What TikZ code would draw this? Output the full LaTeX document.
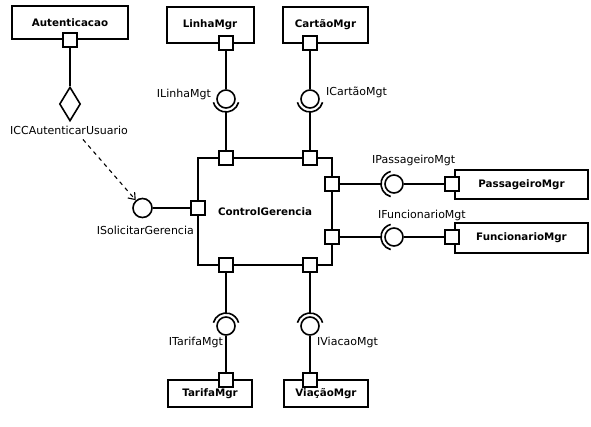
\documentclass[tikz,border=0pt]{standalone}
\usepackage{fontspec}
\setmainfont{DejaVu Sans}
\usetikzlibrary{shapes.geometric,arrows.meta}

\begin{document}
\begin{tikzpicture}[x=1pt,y=-1pt,
  comp/.style={draw,line width=2pt,inner sep=0pt,font=\fontsize{10.3}{12}\selectfont\bfseries},
  port/.style={draw,fill=white,line width=1.9pt,minimum size=14pt,inner sep=0pt},
  ball/.style={draw,circle,line width=1.6pt,minimum size=18pt,inner sep=0pt},
  sock/.style={line width=1.6pt},
  wire/.style={line width=2pt},
  lbl/.style={inner sep=0pt,font=\fontsize{11}{13}\selectfont},
  dep/.style={line width=1.1pt,dash pattern=on 4pt off 4pt,-{Straight Barb[length=6pt,width=9pt]}}
]
\useasboundingbox (0,0) rectangle (591,426);
%The components first, with the control one in the middle,
% then the ports sitting on their borders
\node[comp,minimum width=116pt,minimum height=33pt] (aut) at (70,22.5) {Autenticacao};
\node[comp,minimum width=87pt,minimum height=36pt] (lin) at (210,25) {LinhaMgr};
\node[comp,minimum width=85pt,minimum height=36pt] (car) at (325.5,25) {CartãoMgr};
\node[comp,minimum width=133pt,minimum height=29pt] (pas) at (521.5,184.5) {PassageiroMgr};
\node[comp,minimum width=133pt,minimum height=30pt] (fun) at (521.5,238) {FuncionarioMgr};
\node[comp,minimum width=84pt,minimum height=27pt] (tar) at (210,393.5) {TarifaMgr};
\node[comp,minimum width=84pt,minimum height=27pt] (via) at (326,393.5) {ViaçãoMgr};
\node[comp,minimum width=134pt,minimum height=107pt] (cg) at (265,211.5) {ControlGerencia};

\node[port] (autP) at (aut.south) {};
\node[port] (linP) at (226,43) {};
\node[port] (carP) at (310,43) {};
\node[port] (pasP) at (452,184) {};
\node[port] (funP) at (452,237) {};
\node[port] (tarP) at (226,380) {};
\node[port] (viaP) at (310,380) {};
\node[port] (cgT1) at (226,158) {};
\node[port] (cgT2) at (310,158) {};
\node[port] (cgR1) at (332,184) {};
\node[port] (cgR2) at (332,237) {};
\node[port] (cgB1) at (226,265) {};
\node[port] (cgB2) at (310,265) {};
\node[port] (cgL) at (198,208) {};

% provided interfaces (balls)
\node[ball] (bLin) at (226,99) {};
\node[ball] (bCar) at (310,99) {};
\node[ball] (bPas) at (394,184) {};
\node[ball] (bFun) at (394,237) {};
\node[ball] (bTar) at (226,326) {};
\node[ball] (bVia) at (310,326) {};
\node[ball,minimum size=19pt] (bSol) at (142.5,208) {};
\node[draw,diamond,line width=1.6pt,minimum width=21pt,minimum height=34pt,
      inner sep=0pt,shape aspect=0.62] (dia) at (70,104) {};

% required interfaces (sockets), open towards the ball
\foreach \b/\a in {bLin/90,bCar/90,bPas/180,bFun/180,bTar/270,bVia/270}{
  \draw[sock] (\b.center) ++(\a-75:13) arc[start angle=\a-75,end angle=\a+75,radius=13];
  \path (\b.center) ++(\a:13) coordinate (s\b);
}

\draw[wire] (autP) -- (dia);
\draw[wire] (linP) -- (bLin);
\draw[wire] (sbLin) -- (cgT1);
\draw[wire] (carP) -- (bCar);
\draw[wire] (sbCar) -- (cgT2);
\draw[wire] (cgR1) -- (sbPas);
\draw[wire] (bPas) -- (pasP);
\draw[wire] (cgR2) -- (sbFun);
\draw[wire] (bFun) -- (funP);
\draw[wire] (cgB1) -- (sbTar);
\draw[wire] (bTar) -- (tarP);
\draw[wire] (cgB2) -- (sbVia);
\draw[wire] (bVia) -- (viaP);
\draw[wire] (bSol) -- (cgL);

\node[lbl] (lICC) at (69,130) {ICCAutenticarUsuario};
\node[lbl,anchor=east] (lLin) at (211,94) {ILinhaMgt};
\node[lbl,anchor=west] (lCar) at (326,92) {ICartãoMgt};
\node[lbl,anchor=west] (lPas) at (372,160) {IPassageiroMgt};
\node[lbl,anchor=west] (lFun) at (378,215) {IFuncionarioMgt};
\node[lbl,anchor=east] (lTar) at (223,342) {ITarifaMgt};
\node[lbl,anchor=west] (lVia) at (317,342) {IViacaoMgt};
\node[lbl,anchor=east] (lSol) at (194,230) {ISolicitarGerencia};

\draw[dep] ([xshift=14pt,yshift=-5pt]lICC.south) -- (bSol);
\end{tikzpicture}
\end{document}
